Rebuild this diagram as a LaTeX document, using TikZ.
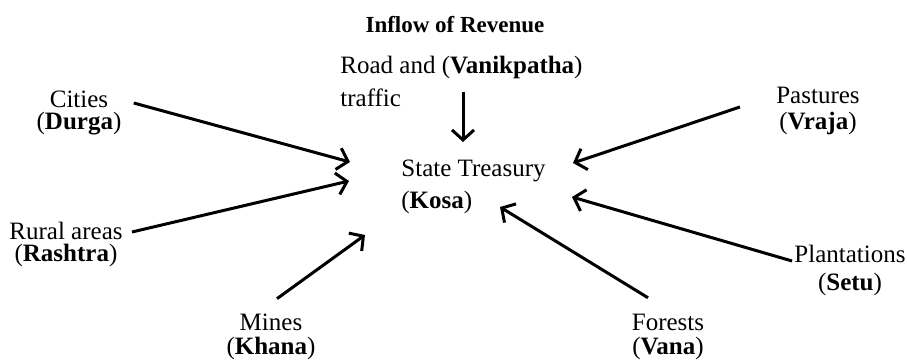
\documentclass[tikz,border=0pt]{standalone}
\usepackage{fontspec}
\setmainfont{Liberation Serif}
\usetikzlibrary{arrows.meta}
\tikzset{
  text_node/.style = {align=center, inner sep=0pt,
    font=\fontsize{12.5}{11}\selectfont},
  treasury_node/.style = {text_node, align=left},
  title_node/.style = {inner sep=0pt,
    font=\fontsize{11.5}{11}\selectfont\bfseries},
  flow/.style = {->, line width=1.5pt}
}
\begin{document}
\begin{tikzpicture}[
    x=0.5pt, y=-0.5pt,
    >={Straight Barb[length=5pt, width=11pt]}
    ]
  \useasboundingbox (0,0) rectangle (907,363);
  \node (title) [title_node] at (455,25) {Inflow of Revenue};
  \node (road) [treasury_node, anchor=north west] at (340,56)
    {Road and (\textbf{Vanikpatha})\\[4pt] traffic};
  \node (treasury) [treasury_node, anchor=north west] at (401,160)
    {State Treasury\\[3.5pt] (\textbf{Kosa})};
  \node (cities) [text_node] at (79,113) {Cities\\ (\textbf{Durga})};
  \node (rural) [text_node] at (66,244) {Rural areas\\ (\textbf{Rashtra})};
  \node (mines) [text_node] at (271,337) {Mines\\[1pt] (\textbf{Khana})};
  \node (forests) [text_node] at (668,337) {Forests\\[1pt] (\textbf{Vana})};
  \node (plantations) [text_node] at (850,270) {Plantations\\[3pt] (\textbf{Setu})};
  \node (pastures) [text_node] at (818,111) {Pastures\\[2pt] (\textbf{Vraja})};
  % arrow tips round the treasury
  \coordinate (in road) at (463,142);
  \coordinate (in cities) at (350,162);
  \coordinate (in rural) at (349,181);
  \coordinate (in mines) at (365,235);
  \coordinate (in forests) at (500,207);
  \coordinate (in plantations) at (572,197);
  \coordinate (in pastures) at (573,163);
  \draw [flow] (road.south -| in road) ++(0,-15) -- (in road);
  \draw [flow] ([shift={(12,-10)}]cities.east) -- (in cities);
  \draw [flow] ([shift={(9,-12)}]rural.east) -- (in rural);
  \draw [flow] ([shift={(6,-15)}]mines.north) -- (in mines);
  \draw [flow] ([shift={(-20,-16)}]forests.north) -- (in forests);
  \draw [flow] ([shift={(-2,-9)}]plantations.west) -- (in plantations);
  \draw [flow] ([shift={(-36,-4)}]pastures.west) -- (in pastures);
\end{tikzpicture}
\end{document}
